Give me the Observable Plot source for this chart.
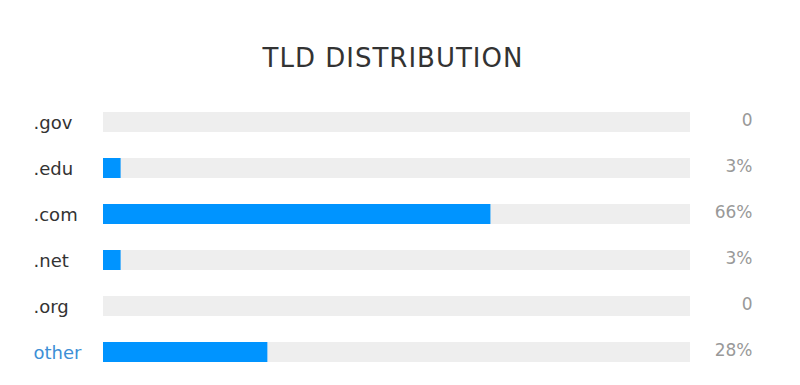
<!DOCTYPE html>
<html>
<head>
<meta charset="utf-8">
<script src="https://cdn.jsdelivr.net/npm/d3@7"></script>
<script src="https://cdn.jsdelivr.net/npm/@observablehq/plot@0.6"></script>
<style>
  html, body { margin: 0; padding: 0; background: #fff; }
  #title {
    font-family: "DejaVu Sans", sans-serif;
    font-size: 26px;
    letter-spacing: 1px;
    line-height: 30px;
    color: #333;
    text-align: center;
    padding-top: 43px;
    height: 47px;
    width: 786px;
  }
</style>
</head>
<body>
<div id="title">TLD DISTRIBUTION</div>
<div id="chart"></div>
<script>
const categories = [".gov", ".edu", ".com", ".net", ".org", "other"];
const values = [0, 3, 66, 3, 0, 28];
const valueLabels = ["0", "3%", "66%", "3%", "0", "28%"];
const labelColors = ["#333333", "#333333", "#333333", "#333333", "#333333", "#3d8fd6"];

const data = categories.map((c, i) => ({
  tld: c, value: values[i], label: valueLabels[i], color: labelColors[i], full: 100
}));

const chart = Plot.plot({
  width: 800,
  height: 295,
  marginLeft: 103,
  marginRight: 110,
  marginTop: 9,
  marginBottom: 10,
  style: { fontFamily: "DejaVu Sans, sans-serif", background: "#fff" },
  x: { domain: [0, 100], axis: null },
  y: { domain: categories, axis: null, paddingInner: 0.565, paddingOuter: 0.2825 },
  marks: [
    Plot.barX(data, { y: "tld", x1: 0, x2: "full", fill: "#eeeeee" }),
    Plot.barX(data, { y: "tld", x1: 0, x2: "value", fill: "#0094ff" }),
    Plot.text(data, {
      y: "tld", frameAnchor: "left", dx: -70, dy: 1, text: "tld", textAnchor: "start",
      fill: "color", fontSize: 18
    }),
    Plot.text(data, {
      y: "tld", frameAnchor: "right", dx: 62, dy: -2, text: "label", textAnchor: "end",
      fill: "#999999", fontSize: 17
    })
  ]
});
document.getElementById("chart").appendChild(chart);
</script>
</body>
</html>
